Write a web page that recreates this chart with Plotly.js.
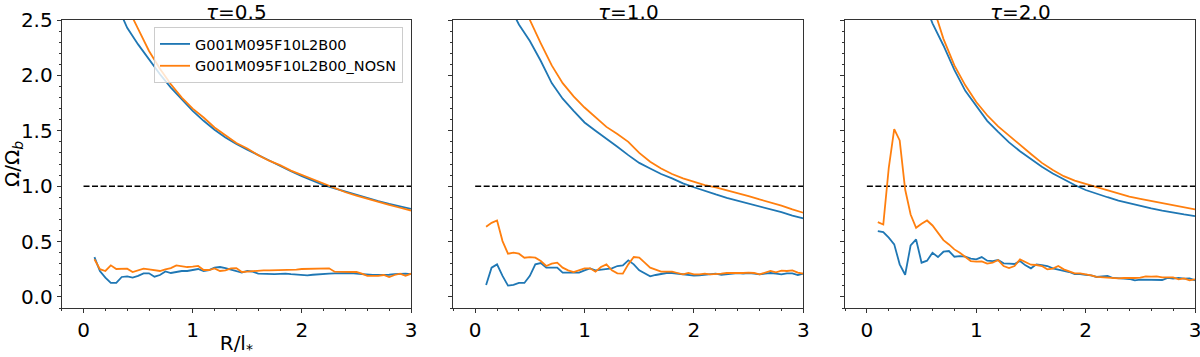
<!DOCTYPE html>
<html>
<head>
<meta charset="utf-8">
<script src="https://cdn.plot.ly/plotly-3.0.1.min.js"></script>
<style>html,body{margin:0;padding:0;background:#fff;}#chart{width:1200px;height:357px;}</style>
</head>
<body>
<div id="chart"></div>
<script>
// ---------- data ----------
const seriesNames = ["G001M095F10L2B00", "G001M095F10L2B00_NOSN"];
const panelTitles = ["<i>τ</i>=0.5", "<i>τ</i>=1.0", "<i>τ</i>=2.0"];

// radial grid of the low (pattern) curves
const rLow = [0.1,0.15,0.2,0.25,0.3,0.35,0.4,0.45,0.5,0.55,0.6,0.65,0.7,0.75,0.8,0.85,0.9,0.95,1.0,
  1.05,1.1,1.15,1.2,1.25,1.3,1.35,1.4,1.45,1.5,1.55,1.6,1.65,1.7,1.75,1.8,1.85,1.9,1.95,2.0,
  2.05,2.1,2.15,2.2,2.25,2.3,2.35,2.4,2.45,2.5,2.55,2.6,2.65,2.7,2.75,2.8,2.85,2.9,2.95,3.0];

// tau = 0.5
const lowBlue1 = [0.36,0.234,0.175,0.126,0.126,0.18,0.186,0.175,0.19,0.213,0.213,0.183,0.198,0.23,0.216,0.228,0.234,0.234,0.243,
  0.252,0.234,0.243,0.264,0.27,0.261,0.249,0.234,0.22,0.234,0.228,0.21,0.208,0.205,0.205,0.208,0.21,0.205,0.2,0.195,
  0.195,0.2,0.205,0.21,0.21,0.213,0.216,0.216,0.216,0.21,0.205,0.2,0.198,0.198,0.198,0.2,0.205,0.21,0.21,0.205];
const lowOrange1 = [0.34,0.25,0.234,0.285,0.252,0.255,0.255,0.225,0.243,0.255,0.249,0.243,0.234,0.249,0.26,0.285,0.28,0.27,0.273,
  0.28,0.243,0.243,0.258,0.234,0.24,0.258,0.26,0.225,0.228,0.234,0.234,0.24,0.24,0.24,0.24,0.24,0.24,0.246,0.252,
  0.252,0.252,0.252,0.252,0.258,0.228,0.228,0.228,0.228,0.225,0.21,0.19,0.19,0.19,0.198,0.18,0.198,0.21,0.19,0.21];
// tau = 1.0
const lowBlue2 = [0.108,0.264,0.294,0.19,0.102,0.108,0.126,0.126,0.19,0.294,0.306,0.264,0.264,0.264,0.219,0.219,0.219,0.219,0.24,
  0.258,0.24,0.246,0.249,0.258,0.279,0.285,0.33,0.294,0.24,0.213,0.186,0.198,0.21,0.216,0.216,0.21,0.2,0.198,0.192,
  0.195,0.198,0.204,0.21,0.2,0.204,0.21,0.216,0.21,0.216,0.21,0.204,0.21,0.216,0.21,0.204,0.213,0.213,0.198,0.21];
const lowOrange2 = [0.634,0.669,0.69,0.504,0.39,0.399,0.39,0.354,0.36,0.354,0.324,0.279,0.3,0.309,0.264,0.24,0.225,0.24,0.258,
  0.258,0.228,0.27,0.294,0.24,0.213,0.21,0.294,0.36,0.354,0.309,0.264,0.246,0.228,0.228,0.228,0.216,0.204,0.216,0.204,
  0.204,0.21,0.204,0.204,0.21,0.216,0.216,0.21,0.216,0.219,0.216,0.204,0.216,0.234,0.222,0.237,0.234,0.24,0.219,0.21];
// tau = 2.0
const lowBlue3 = [0.594,0.585,0.535,0.475,0.294,0.2,0.465,0.519,0.309,0.327,0.399,0.36,0.408,0.414,0.363,0.369,0.363,0.345,0.339,
  0.36,0.327,0.324,0.333,0.303,0.3,0.297,0.324,0.285,0.258,0.294,0.288,0.279,0.258,0.249,0.237,0.225,0.207,0.207,0.2,
  0.195,0.18,0.183,0.189,0.171,0.165,0.165,0.162,0.15,0.156,0.156,0.156,0.153,0.153,0.171,0.165,0.171,0.165,0.168,0.15];
const lowOrange3 = [0.675,0.654,1.164,1.515,1.413,0.97,0.744,0.624,0.66,0.69,0.645,0.579,0.513,0.474,0.429,0.399,0.363,0.324,0.318,
  0.321,0.3,0.309,0.333,0.279,0.261,0.279,0.339,0.315,0.291,0.288,0.279,0.249,0.255,0.279,0.249,0.231,0.213,0.213,0.207,
  0.195,0.18,0.177,0.168,0.171,0.168,0.171,0.168,0.171,0.174,0.186,0.183,0.186,0.177,0.174,0.177,0.159,0.168,0.15,0.159];

// upper (rotation) curves
const rHigh1 = [0.3,0.4,0.5,0.6,0.7,0.8,0.9,1.0,1.1,1.2,1.3,1.4,1.5,1.6,1.7,1.8,1.9,2.0,2.1,2.2,2.3,2.4,2.5,2.6,2.7,2.8,2.9,3.0];
const highBlue1 = [2.65,2.43,2.28,2.14,2.01,1.89,1.78,1.68,1.59,1.51,1.44,1.38,1.33,1.28,1.23,1.18,1.135,1.09,1.05,1.01,0.98,0.95,0.92,0.89,0.865,0.84,0.815,0.795];
const highOrange1 = [2.85,2.62,2.42,2.22,2.06,1.92,1.8,1.7,1.62,1.53,1.46,1.39,1.34,1.28,1.23,1.19,1.14,1.10,1.06,1.02,0.98,0.945,0.915,0.885,0.855,0.83,0.805,0.78];
const rHigh2 = [0.3,0.4,0.5,0.6,0.7,0.8,0.9,1.0,1.1,1.2,1.3,1.4,1.5,1.6,1.7,1.8,1.9,2.0,2.1,2.2,2.3,2.4,2.5,2.6,2.7,2.8,2.9,3.0];
const highBlue2 = [2.65,2.46,2.31,2.13,1.93,1.79,1.68,1.575,1.50,1.43,1.355,1.28,1.21,1.16,1.11,1.07,1.025,0.99,0.955,0.925,0.895,0.87,0.84,0.815,0.79,0.765,0.735,0.71];
const highOrange2 = [3.1,2.8,2.5,2.29,2.09,1.93,1.81,1.71,1.62,1.535,1.47,1.40,1.30,1.22,1.16,1.11,1.07,1.04,1.01,0.99,0.965,0.94,0.91,0.88,0.855,0.825,0.79,0.76];
const rHigh3 = [0.5,0.6,0.7,0.8,0.9,1.0,1.1,1.2,1.3,1.4,1.5,1.6,1.7,1.8,1.9,2.0,2.1,2.2,2.3,2.4,2.5,2.6,2.7,2.8,2.9,3.0];
const highBlue3 = [2.72,2.47,2.27,2.05,1.86,1.72,1.59,1.49,1.395,1.315,1.245,1.175,1.115,1.06,1.01,0.965,0.93,0.90,0.87,0.845,0.82,0.80,0.78,0.76,0.745,0.73];
const highOrange3 = [2.95,2.63,2.33,2.09,1.91,1.76,1.64,1.54,1.455,1.37,1.29,1.21,1.145,1.09,1.05,1.02,0.99,0.96,0.93,0.905,0.885,0.865,0.845,0.825,0.805,0.79];

// reference line Omega/Omega_b = 1
const refX = [0, 3];
const refY = [1, 1];

// ---------- figure ----------
const BLUE = "#1f77b4", ORANGE = "#ff7f0e";
const LW = 1.8;
const panels = [
  {lb: lowBlue1, lo: lowOrange1, rh: rHigh1, hb: highBlue1, ho: highOrange1},
  {lb: lowBlue2, lo: lowOrange2, rh: rHigh2, hb: highBlue2, ho: highOrange2},
  {lb: lowBlue3, lo: lowOrange3, rh: rHigh3, hb: highBlue3, ho: highOrange3}
];
const traces = [];
panels.forEach((p, i) => {
  const xa = i === 0 ? "x" : "x" + (i + 1);
  const ya = i === 0 ? "y" : "y" + (i + 1);
  traces.push({x: p.rh, y: p.hb, xaxis: xa, yaxis: ya, mode: "lines", line: {color: BLUE, width: LW},
    name: seriesNames[0], showlegend: i === 0});
  traces.push({x: p.rh, y: p.ho, xaxis: xa, yaxis: ya, mode: "lines", line: {color: ORANGE, width: LW},
    name: seriesNames[1], showlegend: i === 0});
  traces.push({x: refX, y: refY, xaxis: xa, yaxis: ya, mode: "lines", line: {color: "#000", width: 1.5, dash: "6px,2.5px"},
    showlegend: false, hoverinfo: "skip"});
  traces.push({x: rLow, y: p.lb, xaxis: xa, yaxis: ya, mode: "lines", line: {color: BLUE, width: LW}, showlegend: false});
  traces.push({x: rLow, y: p.lo, xaxis: xa, yaxis: ya, mode: "lines", line: {color: ORANGE, width: LW}, showlegend: false});
});

const W = 1200, H = 357;
const doms = [[61.7, 411], [453.3, 803.3], [845, 1195]].map(d => [d[0] / W, d[1] / W]);
const FONT = "DejaVu Sans";
const FS = 20;
const AX = "#333";
function xaxis(i) {
  const a = {
    domain: doms[i], range: [-0.2, 3], anchor: i === 0 ? "y" : "y" + (i + 1),
    tick0: 0, dtick: 1, ticks: "outside", ticklen: 4, tickwidth: 1, tickcolor: AX,
    ticklabeloverflow: "allow",
    showline: true, mirror: true, linecolor: AX, linewidth: 1, showgrid: false, zeroline: false,
    minor: {tick0: 0, dtick: 0.2, ticks: "outside", ticklen: 2, tickcolor: AX, showgrid: false},
    tickfont: {family: FONT, size: FS, color: "#000"}
  };
  if (i === 0) a.title = {text: "R/l<sub>*</sub>", font: {family: FONT, size: FS, color: "#000"}, standoff: 4};
  return a;
}
function yaxis(i) {
  const a = {
    domain: [49 / H, 1 - 20 / H], range: [-0.1, 2.5], anchor: i === 0 ? "x" : "x" + (i + 1),
    tick0: 0, dtick: 0.5, tickformat: ".1f", ticks: "outside", ticklen: 4, tickwidth: 1, tickcolor: AX,
    showticklabels: i === 0,
    showline: true, mirror: true, linecolor: AX, linewidth: 1, showgrid: false, zeroline: false,
    minor: {tick0: 0, dtick: 0.1, ticks: "outside", ticklen: 2, tickcolor: AX, showgrid: false},
    tickfont: {family: FONT, size: FS, color: "#000"}
  };
  if (i === 0) a.title = {text: "Ω/Ω<sub><i>b</i></sub>", font: {family: FONT, size: FS, color: "#000"}, standoff: 4};
  return a;
}
const layout = {
  width: W, height: H,
  margin: {l: 0, r: 0, t: 0, b: 0},
  paper_bgcolor: "#fff", plot_bgcolor: "#fff",
  font: {family: FONT, color: "#000"},
  showlegend: true,
  legend: {x: 154 / W, y: 1 - 27 / H, xanchor: "left", yanchor: "top", xref: "paper", yref: "paper",
    bgcolor: "rgba(255,255,255,0.8)", bordercolor: "#cccccc", borderwidth: 1,
    font: {family: FONT, size: 14.5, color: "#000"}},
  annotations: panelTitles.map((t, i) => ({
    text: t, xref: "paper", yref: "paper", x: (doms[i][0] + doms[i][1]) / 2, y: 1,
    xanchor: "center", yanchor: "top", showarrow: false, yshift: 2,
    font: {family: FONT, size: FS, color: "#000"}
  }))
};
[0, 1, 2].forEach(i => {
  layout[i === 0 ? "xaxis" : "xaxis" + (i + 1)] = xaxis(i);
  layout[i === 0 ? "yaxis" : "yaxis" + (i + 1)] = yaxis(i);
});
Plotly.newPlot("chart", traces, layout, {displayModeBar: false, staticPlot: true});
</script>
</body>
</html>
